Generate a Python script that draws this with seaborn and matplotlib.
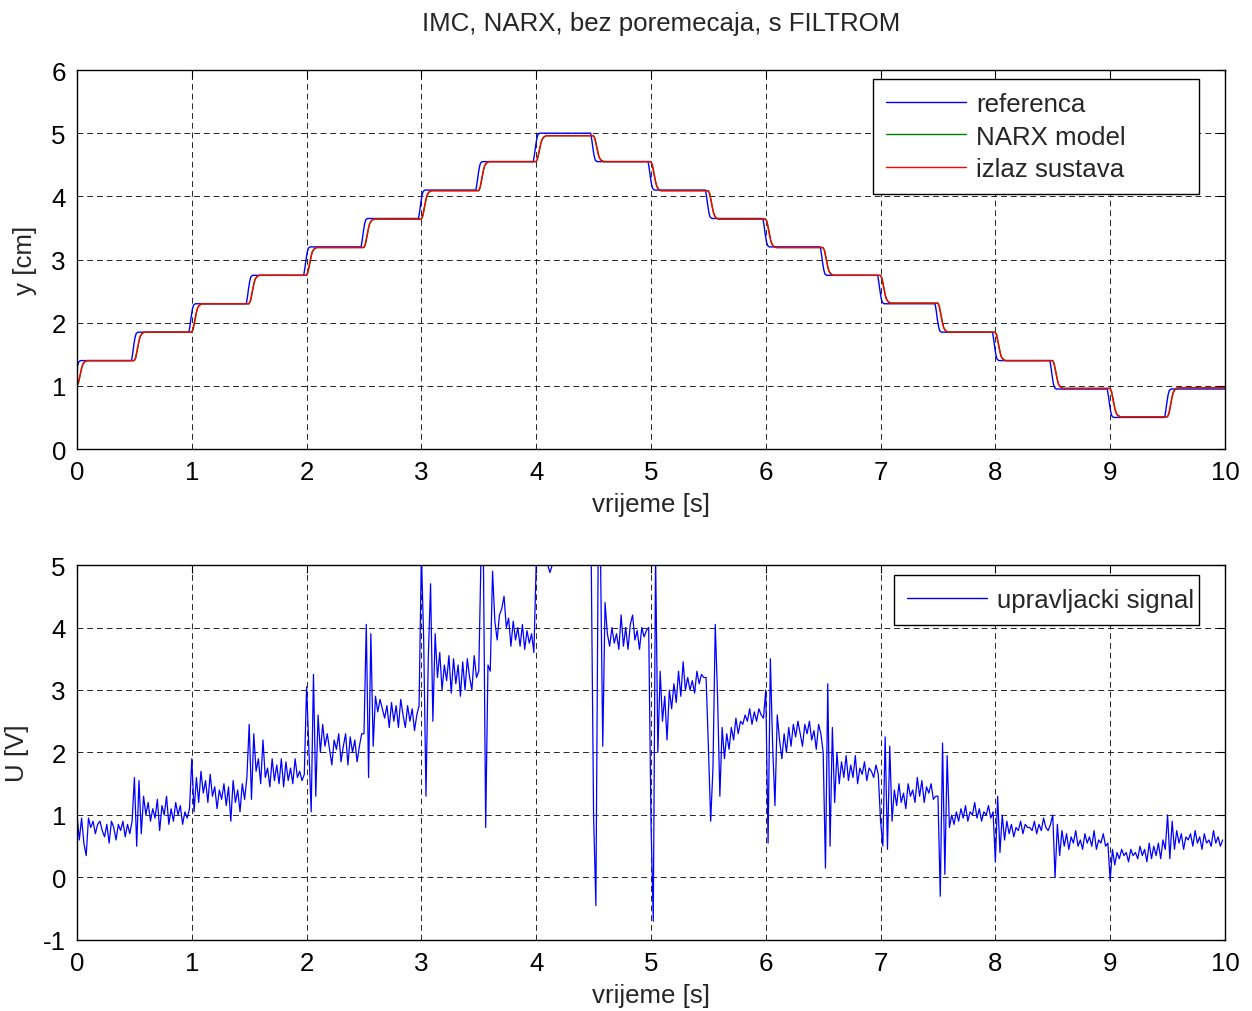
import numpy as np
import pandas as pd
import matplotlib
matplotlib.use("Agg")
import matplotlib.pyplot as plt
import seaborn as sns

# ---------------- data ----------------
# reference set-point levels (cm), each held for 0.5 s starting at step_times
step_times = [0.0, 0.5, 1.0, 1.5, 2.0, 2.5, 3.0, 3.5, 4.0, 4.5,
              5.0, 5.5, 6.0, 6.5, 7.0, 7.5, 8.0, 8.5, 9.0, 9.5]
ref_levels = [1.40, 1.85, 2.30, 2.75, 3.20, 3.65, 4.10, 4.55, 5.00, 4.55,
              4.10, 3.65, 3.20, 2.75, 2.30, 1.85, 1.40, 0.95, 0.50, 0.95]
out_levels = [1.40, 1.85, 2.30, 2.75, 3.19, 3.64, 4.09, 4.55, 4.96, 4.55,
              4.09, 3.64, 3.19, 2.75, 2.31, 1.85, 1.40, 0.96, 0.51, 0.97]
start_level = 1.0
end_time = 10.0

# transition shapes around each switch (time offset in s, fraction of the step)
ref_dt = [-0.025, -0.015, -0.005, 0.005, 0.015, 0.03]
ref_frac = [0.0, 0.25, 0.55, 0.80, 0.95, 1.0]
narx_dt = [0.0, 0.012, 0.022, 0.032, 0.042, 0.052, 0.068, 0.09]
narx_frac = [0.0, 0.10, 0.30, 0.52, 0.72, 0.86, 0.95, 1.0]
out_dt = [-0.003, 0.01, 0.02, 0.03, 0.04, 0.05, 0.065, 0.085]
out_frac = [0.0, 0.10, 0.30, 0.50, 0.70, 0.85, 0.95, 1.0]

# control signal U [V], sampled every 0.02 s; one row per 0.5 s interval
u_dt = 0.02
control_signal = [
    1.0, 0.6, 0.95, 0.55, 0.35, 0.95, 0.8, 0.9, 0.7, 0.85, 0.9, 0.75, 0.65, 0.85, 0.55, 0.9, 0.8, 0.6, 0.85, 0.75, 0.9, 0.65, 0.85, 0.7, 0.9,
    1.6, 0.5, 1.55, 0.7, 1.3, 1.0, 1.2, 0.9, 1.1, 0.95, 1.25, 0.75, 1.15, 1.0, 1.3, 0.85, 1.1, 0.9, 1.2, 1.0, 1.15, 0.85, 1.05, 0.95, 1.1,
    1.9, 1.05, 1.6, 1.2, 1.7, 1.35, 1.55, 1.2, 1.65, 1.3, 1.45, 1.1, 1.4, 1.25, 1.5, 1.15, 1.45, 0.9, 1.55, 1.2, 1.4, 1.05, 1.5, 1.25, 1.6,
    2.45, 1.25, 2.3, 1.7, 1.9, 1.5, 2.2, 1.6, 1.75, 1.45, 1.9, 1.55, 1.8, 1.5, 1.9, 1.45, 1.85, 1.55, 1.75, 1.5, 1.9, 1.6, 1.7, 1.55, 1.65,
    3.05, 2.05, 1.05, 3.25, 1.3, 2.6, 2.0, 2.45, 2.1, 2.3, 2.05, 1.8, 2.2, 2.05, 2.3, 1.85, 2.1, 2.3, 1.8, 2.25, 2.0, 2.2, 1.85, 2.1, 2.3,
    2.3, 4.05, 1.6, 3.9, 2.1, 2.9, 2.65, 2.85, 2.7, 2.55, 2.75, 2.4, 2.8, 2.5, 2.75, 2.4, 2.85, 2.6, 2.4, 2.75, 2.5, 2.7, 2.35, 2.6, 2.75,
    5.2, 3.8, 1.3, 3.5, 4.7, 2.5, 3.9, 3.2, 3.6, 3.0, 3.4, 3.15, 3.55, 2.95, 3.5, 3.1, 3.4, 2.9, 3.45, 3.0, 3.5, 3.2, 3.0, 3.55, 3.2,
    3.3, 5.2, 5.2, 0.8, 3.4, 3.3, 4.9, 4.1, 3.8, 4.2, 4.3, 4.5, 4.0, 4.15, 3.7, 4.1, 3.8, 4.0, 3.7, 4.05, 3.65, 3.95, 3.75, 3.9, 3.6,
    5.0, 5.0, 5.0, 5.0, 5.0, 5.0, 4.88, 5.0, 5.0, 5.0, 5.0, 5.0, 5.0, 5.0, 5.0, 5.0, 5.0, 5.0, 5.0, 5.0, 5.0, 5.0, 5.0, 5.0, 5.0,
    1.0, -0.45, 5.2, 5.2, 2.1, 4.4, 3.9, 3.7, 4.0, 3.75, 3.9, 3.65, 4.2, 3.7, 4.0, 3.65, 4.05, 4.2, 3.8, 3.95, 3.65, 4.0, 3.85, 3.95, 4.0,
    0.9, -0.7, 5.2, 2.0, 3.3, 2.5, 2.9, 2.2, 3.0, 2.7, 3.1, 2.8, 3.3, 2.9, 3.45, 3.0, 3.2, 3.0, 3.15, 2.95, 3.3, 3.1, 3.25, 3.2, 3.2,
    2.1, 0.9, 1.75, 4.05, 2.9, 1.3, 2.4, 1.9, 2.3, 2.05, 2.4, 2.2, 2.55, 2.3, 2.5, 2.45, 2.6, 2.5, 2.7, 2.45, 2.65, 2.5, 2.7, 2.6, 2.55,
    3.0, 0.55, 3.5, 2.1, 1.15, 2.6, 2.2, 1.9, 2.3, 2.0, 2.4, 2.1, 2.45, 2.25, 2.5, 2.3, 2.1, 2.45, 2.3, 2.5, 2.2, 2.35, 2.05, 2.45, 2.3,
    2.0, 0.15, 3.1, 0.5, 2.4, 1.2, 2.0, 1.5, 1.85, 1.6, 1.95, 1.55, 1.8, 1.6, 1.95, 1.5, 1.75, 1.65, 1.85, 1.55, 1.75, 1.7, 1.6, 1.8, 1.65,
    0.9, 0.5, 2.25, 0.45, 2.1, 0.9, 1.4, 1.15, 1.5, 1.2, 1.35, 1.1, 1.5, 1.3, 1.4, 1.2, 1.6, 1.3, 1.55, 1.2, 1.45, 1.35, 1.5, 1.25, 1.3,
    1.3, -0.3, 2.15, 0.05, 1.95, 0.8, 1.0, 0.85, 1.05, 0.9, 1.1, 0.95, 1.15, 0.9, 1.05, 1.0, 1.2, 0.95, 1.1, 0.9, 1.05, 1.0, 1.15, 0.95, 1.05,
    0.25, 1.3, 0.4, 1.0, 0.6, 0.9, 0.7, 0.85, 0.65, 0.8, 0.75, 0.9, 0.7, 0.85, 0.8, 0.8, 0.75, 0.9, 0.7, 0.85, 0.75, 0.95, 0.8, 0.75, 0.85,
    1.0, 0.0, 0.85, 0.35, 0.75, 0.5, 0.7, 0.45, 0.65, 0.55, 0.75, 0.5, 0.6, 0.45, 0.7, 0.55, 0.65, 0.5, 0.75, 0.45, 0.6, 0.55, 0.7, 0.5, 0.55,
    -0.05, 0.45, 0.2, 0.4, 0.3, 0.45, 0.35, 0.4, 0.25, 0.45, 0.35, 0.4, 0.3, 0.5, 0.35, 0.45, 0.25, 0.55, 0.3, 0.5, 0.35, 0.55, 0.3, 0.6, 0.45,
    1.0, 0.3, 0.9, 0.45, 0.75, 0.55, 0.7, 0.45, 0.65, 0.6, 0.7, 0.5, 0.75, 0.55, 0.65, 0.45, 0.7, 0.55, 0.6, 0.5, 0.75, 0.55, 0.65, 0.5, 0.6,
]

title_text = "IMC, NARX, bez poremecaja, s FILTROM"
series_names = ["referenca", "NARX model", "izlaz sustava"]
control_name = "upravljacki signal"


def staircase(levels, dts, fracs):
    """Build a staircase trajectory with the given transition shape at each switch."""
    ts, ys = [0.0], [start_level]
    prev = start_level
    for t0, lev in zip(step_times, levels):
        for d, f in zip(dts, fracs):
            ts.append(max(t0 + d, 0.0))
            ys.append(prev + f * (lev - prev))
        prev = lev
    ts.append(end_time)
    ys.append(prev)
    return ts, ys


t_ref, y_ref = staircase(ref_levels, ref_dt, ref_frac)
t_narx, y_narx = staircase(out_levels, narx_dt, narx_frac)
t_out, y_out = staircase(out_levels, out_dt, out_frac)

top_df = pd.concat([
    pd.DataFrame({"t": t_ref, "y": y_ref, "serija": series_names[0]}),
    pd.DataFrame({"t": t_narx, "y": y_narx, "serija": series_names[1]}),
    pd.DataFrame({"t": t_out, "y": y_out, "serija": series_names[2]}),
], ignore_index=True)

u_df = pd.DataFrame({"t": np.arange(len(control_signal)) * u_dt,
                     "U": control_signal,
                     "serija": control_name})

# ---------------- style ----------------
FS = 18.6
sns.set_theme(style="white")
plt.rcParams["font.family"] = ["Liberation Sans", "DejaVu Sans"]
plt.rcParams["font.size"] = FS
plt.rcParams["axes.linewidth"] = 1.0
plt.rcParams["axes.unicode_minus"] = False

fig = plt.figure(figsize=(12.52, 10.12), dpi=100)
ax1 = fig.add_axes([0.0615, 0.5553, 0.9169, 0.3745])
ax2 = fig.add_axes([0.0615, 0.0702, 0.9169, 0.3705])

palette_top = {series_names[0]: "#0000ff", series_names[1]: "#008000", series_names[2]: "#ff0000"}
sns.lineplot(data=top_df, x="t", y="y", hue="serija", palette=palette_top,
             estimator=None, sort=False, linewidth=1.0, ax=ax1)
sns.lineplot(data=u_df, x="t", y="U", hue="serija", palette={control_name: "#0000ff"},
             estimator=None, sort=False, linewidth=0.9, ax=ax2)


def matlab_axes(ax, ylim, yticks):
    ax.set_xlim(0, 10)
    ax.set_ylim(*ylim)
    ax.set_xticks(range(0, 11))
    ax.set_yticks(yticks)
    ax.grid(True, color="black", linestyle=(0, (6, 4)), linewidth=0.7, alpha=0.85)
    ax.tick_params(direction="in", length=6, width=0.8, top=True, right=True,
                   labelsize=FS, colors="black", pad=8)
    for s in ax.spines.values():
        s.set_color("black")
        s.set_linewidth(1.0)
    ax.set_xlabel("vrijeme [s]", fontsize=FS, labelpad=6)


matlab_axes(ax1, (0, 6), range(0, 7))
matlab_axes(ax2, (-1, 5), range(-1, 6))
ax1.set_ylabel("y [cm]", fontsize=FS, labelpad=10)
ax2.set_ylabel("U [V]", fontsize=FS, labelpad=10)
ax1.set_title(title_text, fontsize=FS, pad=29, x=0.509)

# legend boxes (axes fractions: x0, y0, width, height)
legend_boxes = {
    ax1: (0.6934, 0.6807, 0.2840, 0.2955),
    ax2: (0.7117, 0.8640, 0.2657, 0.1093),
}
for ax, box in legend_boxes.items():
    h, l = ax.get_legend_handles_labels()
    leg = ax.legend(h, l, loc="upper left", bbox_to_anchor=box, mode="expand",
                    borderaxespad=0, fontsize=FS, handlelength=3.1, handletextpad=0.4,
                    labelspacing=0.33, borderpad=0.5, fancybox=False, framealpha=1,
                    edgecolor="black", frameon=True)
    leg.get_frame().set_linewidth(1.0)
    for line in leg.get_lines():
        line.set_linewidth(1.0)

fig.savefig("out.png", dpi=100, facecolor="white")
